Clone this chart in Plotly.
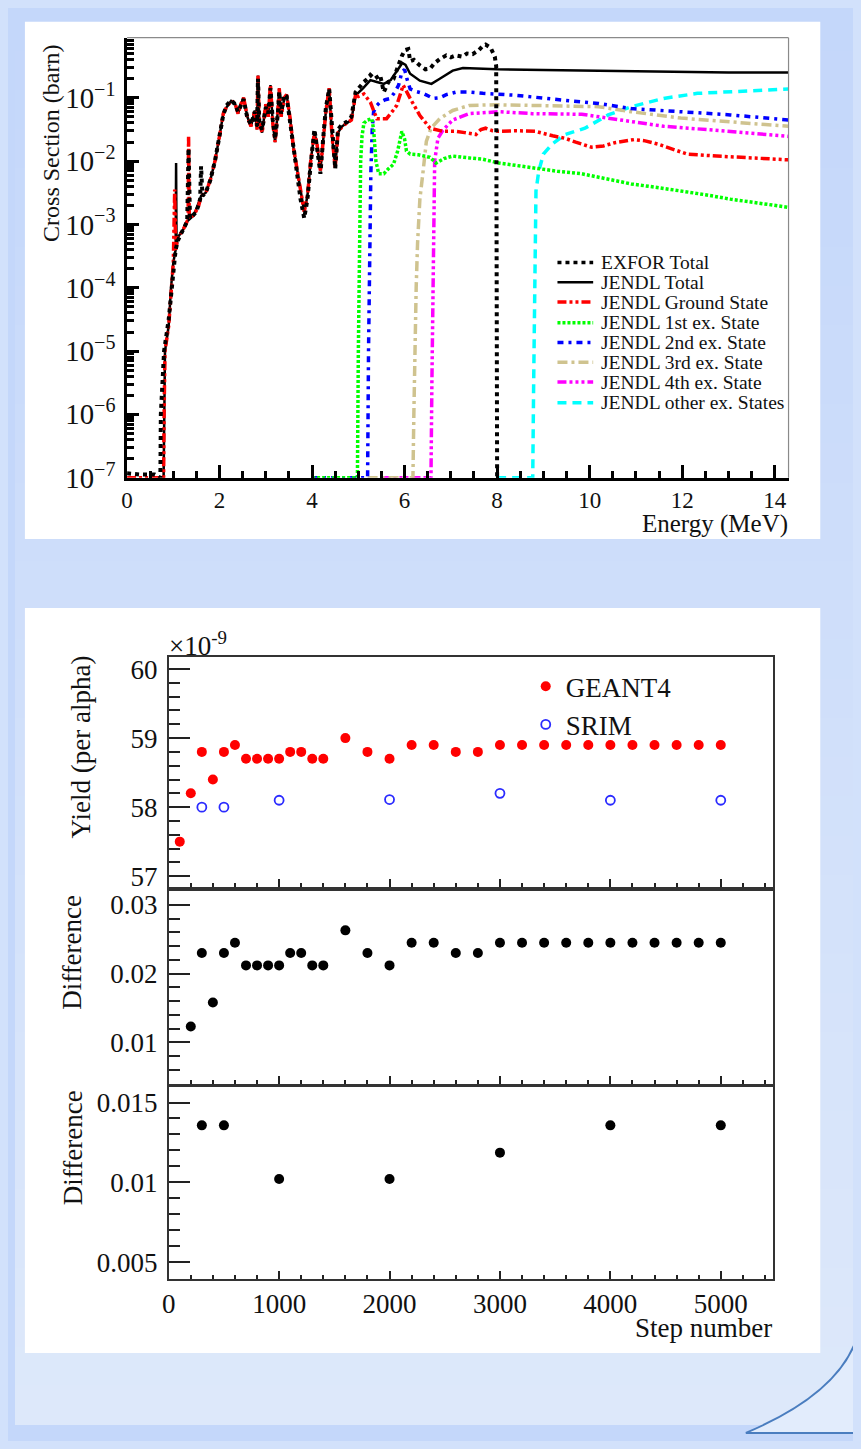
import numpy as np
import plotly.graph_objects as go

# The page is 861x1449; the browser keeps the default 8px body margin, so the
# figure is 845x1433 and sits at (8, 8) on the page.
PAGE_W, PAGE_H = 861, 1449
OFF = 8
W, H = PAGE_W - 2 * OFF, PAGE_H - 2 * OFF
SERIF = "Liberation Serif"

# ---------------- Top chart: cross sections (Energy in MeV, log10 of barn) ----------------
exfor_E = [0.0, 0.3, 0.6, 0.72, 0.73, 0.76, 0.8, 0.9, 1.0, 1.05, 1.1, 1.2, 1.3, 1.33, 1.36, 1.5, 1.58, 1.6, 1.63,
           1.7, 1.8, 1.9, 2.0, 2.08, 2.15, 2.25, 2.33, 2.4, 2.46, 2.52, 2.6, 2.68, 2.76, 2.81, 2.83, 2.86, 2.92,
           3.0, 3.05, 3.1, 3.15, 3.2, 3.26, 3.29, 3.33, 3.4, 3.45, 3.52, 3.6, 3.68, 3.75, 3.83, 3.9, 3.97, 4.05,
           4.1, 4.18, 4.25, 4.3, 4.37, 4.43, 4.5, 4.56, 4.65, 4.75, 4.85, 4.94, 5.0, 5.12, 5.2, 5.26, 5.35, 5.47,
           5.55, 5.65, 5.76, 5.85, 5.94, 6.0, 6.08, 6.12, 6.2, 6.33, 6.45, 6.55, 6.65, 6.76, 6.9, 7.0, 7.11, 7.25,
           7.35, 7.47, 7.6, 7.69, 7.75, 7.86, 7.95, 7.98, 7.99, 8.0]
exfor_log_xs = [-6.93, -6.95, -6.95, -7.0, -6.0, -5.5, -5.0, -4.5, -3.7, -3.4, -3.25, -3.1, -2.95, -1.8, -2.9, -2.8,
                -2.6, -2.08, -2.55, -2.5, -2.3, -2.0, -1.62, -1.27, -1.12, -1.04, -1.1, -1.22, -1.12, -1.02, -1.32,
                -1.42, -1.22, -1.45, -0.7, -1.42, -1.5, -1.15, -1.25, -0.85, -1.35, -1.65, -1.25, -0.9, -1.25, -0.95,
                -0.98, -1.35, -1.85, -2.2, -2.6, -2.9, -2.6, -2.05, -1.5, -1.75, -2.2, -1.55, -1.15, -0.86, -1.55,
                -2.12, -1.5, -1.42, -1.38, -1.3, -0.91, -0.85, -0.75, -0.7, -0.64, -0.7, -0.64, -0.91, -0.75, -0.7,
                -0.5, -0.34, -0.25, -0.23, -0.42, -0.4, -0.49, -0.55, -0.54, -0.45, -0.39, -0.33, -0.36, -0.33, -0.35,
                -0.3, -0.31, -0.25, -0.18, -0.16, -0.21, -0.35, -0.5, -3.0, -7.0]

total_E = [0.79, 0.8, 0.82, 0.9, 0.95, 1.0, 1.05, 1.06, 1.07, 1.1, 1.2, 1.3, 1.45, 1.6, 1.7, 1.8, 1.9, 2.0, 2.08,
           2.15, 2.25, 2.33, 2.4, 2.46, 2.52, 2.6, 2.68, 2.76, 2.81, 2.83, 2.86, 2.92, 3.0, 3.05, 3.1, 3.15, 3.2,
           3.26, 3.29, 3.33, 3.4, 3.45, 3.52, 3.6, 3.68, 3.75, 3.83, 3.9, 3.97, 4.05, 4.1, 4.18, 4.25, 4.3, 4.37,
           4.43, 4.5, 4.56, 4.65, 4.75, 4.85, 4.94, 5.0, 5.1, 5.26, 5.4, 5.55, 5.7, 5.85, 5.95, 6.02, 6.12, 6.33,
           6.58, 6.76, 7.04, 7.26, 8.0, 9.0, 10.0, 11.0, 12.0, 13.0, 14.3]
total_log_xs = [-7.0, -6.0, -5.0, -4.6, -4.0, -3.6, -3.4, -2.03, -3.35, -3.2, -3.1, -2.95, -2.85, -2.55, -2.5, -2.3,
                -2.0, -1.6, -1.25, -1.15, -1.05, -1.08, -1.25, -1.1, -1.0, -1.3, -1.45, -1.2, -1.5, -0.65, -1.4,
                -1.55, -1.1, -1.3, -0.8, -1.4, -1.7, -1.2, -0.85, -1.3, -1.0, -0.95, -1.3, -1.8, -2.15, -2.5, -2.8,
                -2.55, -2.0, -1.55, -1.7, -2.15, -1.6, -1.2, -0.85, -1.6, -2.1, -1.55, -1.45, -1.4, -1.35, -0.95,
                -0.92, -0.85, -0.72, -0.75, -0.78, -0.72, -0.55, -0.45, -0.48, -0.62, -0.73, -0.78, -0.70, -0.57,
                -0.53, -0.55, -0.56, -0.57, -0.57, -0.58, -0.6, -0.6]

ground_E = [0.0, 0.4, 0.79, 0.8, 0.82, 0.9, 0.95, 1.0, 1.03, 1.05, 1.1, 1.2, 1.3, 1.32, 1.33, 1.345, 1.45, 1.55, 1.6,
            1.7, 1.8, 1.9, 2.0, 2.08, 2.15, 2.25, 2.33, 2.4, 2.46, 2.52, 2.6, 2.68, 2.76, 2.81, 2.83, 2.86, 2.92,
            3.0, 3.05, 3.1, 3.15, 3.2, 3.26, 3.29, 3.33, 3.4, 3.45, 3.52, 3.6, 3.68, 3.75, 3.83, 3.9, 3.97, 4.05,
            4.1, 4.18, 4.25, 4.3, 4.37, 4.43, 4.5, 4.56, 4.65, 4.75, 4.85, 4.94, 5.0, 5.12, 5.26, 5.4, 5.5, 5.61,
            5.75, 5.83, 5.97, 6.05, 6.12, 6.33, 6.55, 6.83, 7.11, 7.3, 7.54, 7.65, 7.75, 7.9, 8.04, 8.4, 8.83, 9.2,
            9.47, 9.7, 10.04, 10.3, 10.54, 10.96, 11.2, 11.47, 11.8, 12.11, 12.75, 13.75, 14.3]
ground_log_xs = [-7.0, -7.0, -7.0, -6.0, -5.0, -4.6, -4.0, -3.6, -2.45, -3.4, -3.2, -3.1, -2.95, -2.95, -1.6, -2.9,
                 -2.85, -2.7, -2.55, -2.5, -2.3, -2.0, -1.6, -1.25, -1.15, -1.05, -1.08, -1.25, -1.1, -1.0, -1.3,
                 -1.45, -1.2, -1.5, -0.65, -1.4, -1.55, -1.1, -1.3, -0.8, -1.4, -1.7, -1.2, -0.85, -1.3, -1.0, -0.95,
                 -1.3, -1.8, -2.15, -2.5, -2.8, -2.55, -2.0, -1.55, -1.7, -2.15, -1.6, -1.2, -0.85, -1.6, -2.1,
                 -1.55, -1.45, -1.4, -1.35, -0.95, -0.98, -0.94, -1.07, -1.33, -1.33, -1.33, -1.2, -1.12, -0.8, -0.9,
                 -1.01, -1.28, -1.48, -1.53, -1.53, -1.55, -1.58, -1.5, -1.48, -1.52, -1.53, -1.52, -1.53, -1.6,
                 -1.64, -1.7, -1.78, -1.76, -1.71, -1.66, -1.68, -1.73, -1.82, -1.89, -1.92, -1.95, -1.98]

ex1_E = [4.0, 4.98, 5.0, 5.02, 5.05, 5.08, 5.12, 5.2, 5.29, 5.33, 5.38, 5.44, 5.55, 5.65, 5.76, 5.85, 5.94, 6.0,
         6.04, 6.12, 6.3, 6.55, 6.68, 6.85, 7.04, 7.4, 7.69, 8.04, 8.4, 8.83, 9.3, 9.83, 10.4, 10.9, 11.5, 11.97,
         12.5, 13.04, 13.7, 14.3]
ex1_log_xs = [-7.0, -7.0, -5.0, -3.5, -2.0, -1.6, -1.4, -1.35, -1.33, -1.5, -2.0, -2.2, -2.2, -2.12, -2.05, -1.84,
              -1.53, -1.65, -1.84, -1.89, -1.9, -1.94, -2.03, -1.96, -1.92, -1.95, -1.97, -2.03, -2.07, -2.12, -2.16,
              -2.2, -2.28, -2.36, -2.42, -2.47, -2.53, -2.6, -2.67, -2.73]

ex2_E = [4.0, 5.2, 5.22, 5.24, 5.27, 5.3, 5.33, 5.4, 5.47, 5.58, 5.69, 5.8, 5.87, 5.94, 6.0, 6.05, 6.12, 6.25, 6.4,
         6.62, 6.76, 6.9, 7.11, 7.4, 7.69, 8.4, 8.76, 9.47, 10.19, 10.9, 11.97, 13.04, 14.3]
ex2_log_xs = [-7.0, -7.0, -5.0, -3.5, -2.2, -1.5, -1.22, -1.12, -1.07, -1.03, -1.01, -0.9, -0.8, -0.6, -0.55, -0.7,
              -0.86, -0.9, -0.93, -1.01, -1.0, -0.95, -0.91, -0.91, -0.93, -0.96, -0.99, -1.04, -1.09, -1.17, -1.22,
              -1.27, -1.35]

ex3_E = [5.2, 6.18, 6.2, 6.22, 6.25, 6.28, 6.33, 6.4, 6.47, 6.57, 6.76, 7.04, 7.4, 7.97, 8.76, 9.83, 10.19, 10.9,
         11.97, 13.04, 14.3]
ex3_log_xs = [-7.0, -7.0, -6.0, -5.0, -4.0, -3.3, -2.6, -2.16, -1.69, -1.48, -1.33, -1.2, -1.12, -1.11, -1.12,
              -1.14, -1.14, -1.22, -1.32, -1.38, -1.45]

ex4_E = [5.5, 6.57, 6.59, 6.61, 6.62, 6.65, 6.72, 6.83, 7.04, 7.4, 8.04, 8.76, 9.83, 10.69, 11.6, 12.68, 14.3]
ex4_log_xs = [-7.0, -7.0, -5.5, -4.0, -3.04, -2.0, -1.64, -1.51, -1.35, -1.25, -1.22, -1.25, -1.26, -1.35, -1.45,
              -1.51, -1.61]

other_E = [8.0, 8.77, 8.79, 8.81, 8.83, 8.84, 8.9, 9.0, 9.19, 9.47, 9.9, 10.4, 10.9, 11.6, 12.33, 13.04, 13.75, 14.3]
other_log_xs = [-7.0, -7.0, -5.5, -4.5, -3.56, -2.47, -2.16, -1.89, -1.73, -1.58, -1.48, -1.27, -1.14, -1.01, -0.93,
                -0.91, -0.88, -0.86]

energy_ticks = [0, 2, 4, 6, 8, 10, 12, 14]

# ---------------- Bottom chart: yield vs step number ----------------
geant4_steps = [100, 200, 300, 400, 500, 600, 700, 800, 900, 1000, 1100, 1200, 1300, 1400, 1600, 1800, 2000,
                2200, 2400, 2600, 2800, 3000, 3200, 3400, 3600, 3800, 4000, 4200, 4400, 4600, 4800, 5000]
geant4_yield = [57.5, 58.2, 58.8, 58.4, 58.8, 58.9, 58.7, 58.7, 58.7, 58.7, 58.8, 58.8, 58.7, 58.7, 59.0, 58.8,
                58.7, 58.9, 58.9, 58.8, 58.8, 58.9, 58.9, 58.9, 58.9, 58.9, 58.9, 58.9, 58.9, 58.9, 58.9, 58.9]
srim_steps = [300, 500, 1000, 2000, 3000, 4000, 5000]
srim_yield = [58.0, 58.0, 58.1, 58.11, 58.2, 58.1, 58.1]

diff1_steps = [200, 300, 400, 500, 600, 700, 800, 900, 1000, 1100, 1200, 1300, 1400, 1600, 1800, 2000, 2200,
               2400, 2600, 2800, 3000, 3200, 3400, 3600, 3800, 4000, 4200, 4400, 4600, 4800, 5000]
diff1_values = [0.0123, 0.0230, 0.0158, 0.0230, 0.0245, 0.0212, 0.0212, 0.0212, 0.0212, 0.0230, 0.0230, 0.0212,
                0.0212, 0.0263, 0.0230, 0.0212, 0.0245, 0.0245, 0.0230, 0.0230, 0.0245, 0.0245, 0.0245, 0.0245,
                0.0245, 0.0245, 0.0245, 0.0245, 0.0245, 0.0245, 0.0245]
diff2_steps = [300, 500, 1000, 2000, 3000, 4000, 5000]
diff2_values = [0.01357, 0.01357, 0.01021, 0.01021, 0.01186, 0.01357, 0.01357]

step_ticks = [0, 1000, 2000, 3000, 4000, 5000]
yield_ticks = [57, 58, 59, 60]
diff1_ticks = [0.01, 0.02, 0.03]
diff1_ticktext = ["0.01", "0.02", "0.03"]
diff2_ticks = [0.005, 0.01, 0.015]
diff2_ticktext = ["0.005", "0.01", "0.015"]


def px(x):
    """page pixel x -> paper fraction"""
    return (x - OFF) / W


def py(y):
    """page pixel y -> paper fraction"""
    return 1 - (y - OFF) / H


fig = go.Figure()

top_series = [
    ("JENDL Total", total_E, total_log_xs, "black", "solid", 2.5),
    ("JENDL other ex. States", other_E, other_log_xs, "#00ffff", "9px,6px", 3.5),
    ("JENDL 4th ex. State", ex4_E, ex4_log_xs, "#ff00ff", "9px,3px,3px,3px,3px,3px,3px,3px", 3.5),
    ("JENDL 3rd ex. State", ex3_E, ex3_log_xs, "#cfc38f", "10px,4px,3px,4px", 3.5),
    ("JENDL 2nd ex. State", ex2_E, ex2_log_xs, "#0000ff", "6px,5px,3px,5px", 3.5),
    ("JENDL 1st ex. State", ex1_E, ex1_log_xs, "#00ff00", "3px,2px", 3.5),
    ("JENDL Ground State", ground_E, ground_log_xs, "#ff0000", "9px,3px,3px,3px,3px,3px", 3.5),
    ("EXFOR Total", exfor_E, exfor_log_xs, "black", "4px,4px", 4),
]
for name, xs, ls, col, dash, w in top_series:
    fig.add_trace(go.Scatter(x=xs, y=10 ** np.array(ls), mode="lines", name=name, showlegend=False,
                             line=dict(color=col, dash=dash, width=w), xaxis="x", yaxis="y"))

fig.add_trace(go.Scatter(x=geant4_steps, y=geant4_yield, mode="markers", name="GEANT4", legend="legend2",
                         marker=dict(color="#ff0000", size=10, symbol="circle"), xaxis="x2", yaxis="y2"))
fig.add_trace(go.Scatter(x=srim_steps, y=srim_yield, mode="markers", name="SRIM", legend="legend2",
                         marker=dict(color="#2b2bff", size=9, symbol="circle-open", line=dict(width=1.8)),
                         xaxis="x2", yaxis="y2"))
fig.add_trace(go.Scatter(x=diff1_steps, y=diff1_values, mode="markers", showlegend=False,
                         marker=dict(color="black", size=10), xaxis="x3", yaxis="y3"))
fig.add_trace(go.Scatter(x=diff2_steps, y=diff2_values, mode="markers", showlegend=False,
                         marker=dict(color="black", size=10), xaxis="x4", yaxis="y4"))

# ---------------- shapes: background, cards, frame, legend samples ----------------
shapes = []
top_rgb = np.array([196, 215, 250])
bot_rgb = np.array([222, 233, 251])
nb = 36
for i in range(nb):
    t = (i + 0.5) / nb
    c = top_rgb + (bot_rgb - top_rgb) * t
    shapes.append(dict(type="rect", xref="paper", yref="paper", x0=0, x1=1,
                       y0=max(0.0, 1 - (i + 1) / nb - 0.002), y1=1 - i / nb, layer="below", line=dict(width=0),
                       fillcolor="rgb(%d,%d,%d)" % tuple(c.astype(int))))
x0c, y0c, cx, cy, x1c, y1c = 861, 1312, 870, 1396, 745, 1449
path = "M %f %f Q %f %f %f %f L %f %f L %f %f Z" % (px(x0c), py(y0c), px(cx), py(cy), px(x1c), py(y1c),
                                                     px(861), py(1449), px(861), py(y0c))
shapes.append(dict(type="path", xref="paper", yref="paper", path=path, layer="below",
                   fillcolor="rgb(226,236,252)", line=dict(color="#4a7dbf", width=2)))
for (a, b, c, d) in [(18, 19, 820, 543), (18, 613, 820, 1368)]:
    shapes.append(dict(type="rect", xref="paper", yref="paper", x0=px(a), x1=px(c), y0=py(d), y1=py(b),
                       layer="below", fillcolor="white", line=dict(width=0)))
shapes.append(dict(type="line", xref="paper", yref="paper", x0=px(121), x1=px(788), y0=py(35), y1=py(35),
                   line=dict(color="#8a8a8a", width=1.2)))
shapes.append(dict(type="line", xref="paper", yref="paper", x0=px(788), x1=px(788), y0=py(35), y1=py(481),
                   line=dict(color="#8a8a8a", width=1.2)))

legend_rows = [263, 283, 303, 324, 344, 364, 384, 405]
legend_order = ["EXFOR Total", "JENDL Total", "JENDL Ground State", "JENDL 1st ex. State",
                "JENDL 2nd ex. State", "JENDL 3rd ex. State", "JENDL 4th ex. State", "JENDL other ex. States"]
style = {s[0]: s for s in top_series}
annotations = []
for yrow, name in zip(legend_rows, legend_order):
    _, _, _, col, dash, w = style[name]
    shapes.append(dict(type="line", xref="paper", yref="paper", x0=px(555), x1=px(591), y0=py(yrow),
                       y1=py(yrow), line=dict(color=col, dash=dash, width=min(w, 3.5))))
    annotations.append(dict(text=name, xref="paper", yref="paper", x=px(597), y=py(yrow), xanchor="left",
                            yanchor="middle", showarrow=False, font=dict(family=SERIF, size=19.5, color="#111")))

titles = [
    dict(text="Cross Section (barn)", x=px(45), y=py(142), textangle=-90, font=dict(family=SERIF, size=24)),
    dict(text="Energy (MeV)", x=px(789), y=py(528), xanchor="right", font=dict(family=SERIF, size=25)),
    dict(text="Yield (per alpha)", x=px(75), y=py(754), textangle=-90, font=dict(family=SERIF, size=27)),
    dict(text="×10<sup>-9</sup>", x=px(161), y=py(650), xanchor="left", font=dict(family=SERIF, size=27)),
    dict(text="Difference", x=px(66), y=py(962), textangle=-90, font=dict(family=SERIF, size=27)),
    dict(text="Difference", x=px(66), y=py(1160), textangle=-90, font=dict(family=SERIF, size=27)),
    dict(text="Step number", x=px(773), y=py(1343), xanchor="right", font=dict(family=SERIF, size=27)),
]
for a in titles:
    a.update(xref="paper", yref="paper", showarrow=False, yanchor="middle")
    a.setdefault("xanchor", "center")
    a["font"]["color"] = "#111"
annotations += titles

tickfont_top = dict(family=SERIF, size=23, color="#111")
tickfont_bot = dict(family=SERIF, size=27, color="#111")

bx = dict(domain=[px(163), px(772)], range=[0, 5470], tickmode="array", tickvals=step_ticks,
          ticks="inside", ticklen=8, tickwidth=1.5, tickcolor="#222", showline=True, linecolor="#333",
          linewidth=1.6, mirror=True, showgrid=False, zeroline=False,
          minor=dict(dtick=200, tick0=0, ticks="inside", ticklen=4, tickwidth=1.5, tickcolor="#222"),
          tickfont=tickfont_bot)
by = dict(ticks="inside", tickwidth=1.5, tickcolor="#222", ticklen=21, showline=True, linecolor="#333",
          linewidth=1.6, mirror=True, showgrid=False, zeroline=False, tickfont=tickfont_bot, tickmode="array",
          ticklabelstandoff=4)

fig.update_layout(
    width=W, height=H, margin=dict(l=0, r=0, t=0, b=0),
    paper_bgcolor="rgb(196,215,250)", plot_bgcolor="rgba(0,0,0,0)",
    showlegend=True,
    shapes=shapes, annotations=annotations,
    xaxis=dict(domain=[px(121), px(788)], anchor="y", range=[0, 14.3], tickmode="array", tickvals=energy_ticks,
               ticks="inside", ticklen=13, tickwidth=2.5, tickcolor="black", showline=True, linecolor="black",
               linewidth=3, showgrid=False, zeroline=False, tickfont=tickfont_top, ticklabelstandoff=0,
               minor=dict(dtick=0.5, tick0=0, ticks="inside", ticklen=7, tickwidth=2.5, tickcolor="black")),
    yaxis=dict(domain=[py(481), py(35)], anchor="x", type="log", range=[-7, -0.05], tickmode="linear", tick0=0,
               dtick=1, exponentformat="power", showexponent="all", ticks="inside", ticklen=12, tickwidth=3,
               tickcolor="black", showline=True, linecolor="black", linewidth=3, showgrid=False, zeroline=False,
               tickfont=tickfont_top, ticklabelstandoff=4,
               minor=dict(dtick="D1", ticks="inside", ticklen=7, tickwidth=2.5, tickcolor="black")),
    xaxis2=dict(bx, anchor="y2", showticklabels=False),
    xaxis3=dict(bx, anchor="y3", showticklabels=False, matches="x2"),
    xaxis4=dict(bx, anchor="y4", showticklabels=True, matches="x2", ticklabelstandoff=0),
    yaxis2=dict(by, domain=[py(896), py(663)], anchor="x2", range=[56.84, 60.17], tickvals=yield_ticks,
                minor=dict(dtick=0.2, tick0=57, ticks="inside", ticklen=11, tickwidth=1.5, tickcolor="#222")),
    yaxis3=dict(by, domain=[py(1095), py(900)], anchor="x3", range=[0.0040, 0.0320], tickvals=diff1_ticks,
                ticktext=diff1_ticktext,
                minor=dict(dtick=0.002, tick0=0, ticks="inside", ticklen=11, tickwidth=1.5, tickcolor="#222")),
    yaxis4=dict(by, domain=[py(1293), py(1098)], anchor="x4", range=[0.00395, 0.0160], tickvals=diff2_ticks,
                ticktext=diff2_ticktext,
                minor=dict(dtick=0.001, tick0=0, ticks="inside", ticklen=11, tickwidth=1.5, tickcolor="#222")),
    legend2=dict(x=px(523), y=py(668), xanchor="left", yanchor="top", bgcolor="rgba(0,0,0,0)",
                 font=dict(family=SERIF, size=27, color="#111"), itemwidth=30),
)

fig.write_html("out.html", config={"displayModeBar": False},
               post_script="document.body.style.background='rgb(210,225,251)';")
